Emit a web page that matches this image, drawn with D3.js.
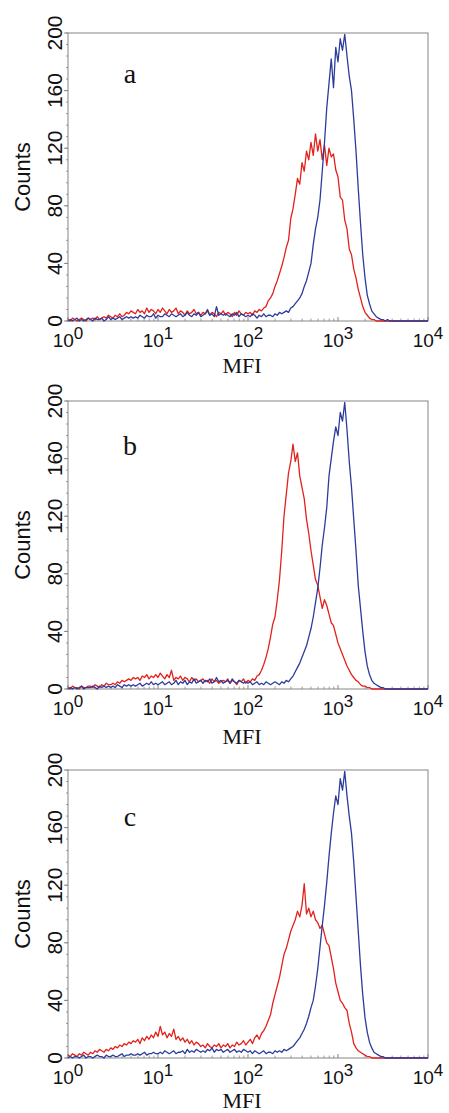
<!DOCTYPE html>
<html>
<head>
<meta charset="utf-8">
<script src="https://cdn.jsdelivr.net/npm/d3@7/dist/d3.min.js"></script>
<style>
  body { margin: 0; background: #fff; }
  svg { display: block; }
</style>
</head>
<body>
<script>
// histogram channels: one value per 0.025 decade, from 10^0 to 10^4
const channelStep = 0.025;
const yTicks = [0, 40, 80, 120, 160, 200];
const xDecades = [0, 1, 2, 3, 4];
const panelLetters = ["a", "b", "c"];

const redA = [
  1,0,2,1,0,1,2,1,0,2, 1,2,1,3,1,2,3,2,4,3, 2,4,3,5,3,4,6,5,7,6, 5,8,6,7,5,9,6,8,7,5,
  8,6,9,7,5,8,6,7,9,5, 7,6,4,7,5,6,8,5,6,4, 6,5,7,4,6,5,3,6,5,7, 4,6,5,3,6,4,7,5,4,6,
  5,6,4,7,6,8,7,9,10,14, 16,19,24,28,33,38,44,51,56,71, 78,88,99,95,110,104,118,112,124,115,
  130,118,126,112,122,108,120,114,116,105, 100,86,84,70,64,50,46,36,30,22, 16,10,6,4,2,1,1,0,0,0,
  0,0,0,0,0,0,0,0,0,0, 0,0,0,0,0,0,0,0,0,0, 0
];
const blueA = [
  0,1,0,1,2,0,1,0,1,2, 1,0,2,1,1,2,0,1,3,1, 2,1,2,3,1,2,3,2,3,2, 3,2,4,3,2,4,3,3,5,2,
  4,3,3,5,4,3,5,4,3,4, 5,3,4,6,4,3,5,4,6,3, 4,5,8,4,5,3,10,4,5,4, 5,4,3,5,4,6,3,5,4,3,
  4,3,5,4,2,4,3,5,3,4, 4,3,5,4,6,5,6,7,6,9, 10,12,14,16,19,24,28,34,40,53,
  64,72,84,104,124,148,165,182,162,190, 180,196,188,199,184,170,160,140,118,92, 68,46,30,18,12,7,5,3,2,1,
  1,0,1,0,0,0,0,0,0,0, 0,0,0,0,0,0,0,0,0,0, 0
];
const redB = [
  1,0,2,1,1,0,2,1,1,2, 2,1,3,2,1,3,2,4,3,3, 4,3,5,4,6,5,6,7,6,8, 7,8,6,9,8,10,7,9,8,10,
  8,11,9,7,10,8,13,6,8,7, 9,6,8,7,5,8,6,7,5,6, 7,5,6,4,7,5,6,4,5,6, 5,7,4,6,5,3,6,5,7,4,
  6,5,7,6,9,10,13,17,22,28, 36,45,50,62,76,96,120,135,150,158, 170,158,164,148,140,132,118,108,96,86,
  76,72,64,56,62,58,52,46,44,38, 32,28,24,20,16,13,10,8,6,5, 3,2,2,1,1,0,0,0,0,0,
  0,0,0,0,0,0,0,0,0,0, 0,0,0,0,0,0,0,0,0,0, 0
];
const blueB = [
  0,1,0,1,0,1,2,0,1,1, 1,2,1,0,2,1,2,1,2,1, 2,1,3,2,1,3,2,3,2,3, 2,3,4,2,3,4,3,5,3,4,
  3,4,5,3,4,5,3,4,6,3, 5,4,6,3,5,4,7,4,5,6, 4,6,5,7,4,5,8,5,6,4, 5,6,4,7,5,4,6,5,4,5,
  4,5,3,4,5,3,4,3,5,4, 3,4,5,4,3,5,4,6,5,7, 9,12,15,18,22,26,30,36,42,50,
  60,70,84,100,112,126,148,160,172,182, 176,192,186,199,180,158,140,118,96,72, 56,40,26,16,10,6,4,3,2,1,
  1,0,0,0,0,0,0,0,0,0, 0,0,0,0,0,0,0,0,0,0, 0
];
const redC = [
  2,1,3,2,1,3,2,4,3,2, 4,3,5,4,6,5,4,6,5,7, 6,8,7,9,8,10,9,11,10,12, 11,13,10,14,12,15,13,16,14,18,
  15,22,16,18,14,17,15,20,13,15, 12,14,11,13,10,12,9,11,10,8, 9,7,10,8,7,9,8,10,7,9, 8,10,7,9,8,11,9,10,12,9,
  11,13,10,14,16,13,17,19,22,26, 30,38,44,50,56,64,72,76,82,88, 92,96,102,98,106,121,100,104,98,102,
  96,94,90,92,86,80,78,70,62,52, 46,40,38,35,33,24,18,10,7,5, 4,3,2,1,1,0,0,0,0,0,
  0,0,0,0,0,0,0,0,0,0, 0,0,0,0,0,0,0,0,0,0, 0
];
const blueC = [
  0,1,0,1,1,0,1,2,0,1, 1,0,1,2,1,1,0,2,1,1, 2,1,1,2,3,1,2,2,3,2, 2,3,2,3,4,2,3,3,4,3,
  3,4,3,5,4,3,4,5,3,4, 4,5,3,6,4,5,4,6,5,4, 5,4,6,5,7,4,6,5,6,4, 5,6,4,5,6,4,5,4,6,5,
  4,5,3,5,4,3,4,5,3,4, 4,3,5,4,5,4,6,5,6,7, 8,10,12,14,17,20,24,29,35,40,
  50,62,77,92,106,122,140,156,170,182, 176,194,186,199,182,168,156,136,112,88, 64,44,28,18,11,7,4,3,2,1,
  1,0,0,0,0,0,0,0,0,0, 0,0,0,0,0,0,0,0,0,0, 0
];

const panels = [
  { letter: panelLetters[0], red: redA, blue: blueA, top: 33, letterDy: 50, mfiDy: 52 },
  { letter: panelLetters[1], red: redB, blue: blueB, top: 401, letterDy: 54, mfiDy: 55 },
  { letter: panelLetters[2], red: redC, blue: blueC, top: 770, letterDy: 56, mfiDy: 50 }
];

const width = 449, height = 1113;
const left = 68, right = 428, plotH = 288;
const sans = "'Liberation Sans', Arial, Helvetica, sans-serif";
const serif = "'Liberation Serif', 'Times New Roman', serif";
const frameColor = "#858585";

const svg = d3.select("body").append("svg")
  .attr("width", width)
  .attr("height", height);

const x = d3.scaleLog().domain([1, 1e4]).range([left, right]);

panels.forEach(function(p) {
  let bottom = p.top + plotH;
  let y = d3.scaleLinear().domain([0, 200]).range([bottom, p.top]);
  let g = svg.append("g");

  // frame
  g.append("rect")
    .attr("x", left).attr("y", p.top)
    .attr("width", right - left).attr("height", plotH)
    .attr("fill", "none")
    .attr("stroke", frameColor)
    .attr("stroke-width", 1);

  // y ticks, major every 40 and minor every 8
  g.selectAll(".yminor").data(d3.range(0, 201, 8)).enter().append("line")
    .attr("x1", left - 2).attr("x2", left)
    .attr("y1", d => y(d)).attr("y2", d => y(d))
    .attr("stroke", frameColor).attr("stroke-width", 0.8);
  g.selectAll(".ymajor").data(yTicks).enter().append("line")
    .attr("x1", left - 4).attr("x2", left)
    .attr("y1", d => y(d)).attr("y2", d => y(d))
    .attr("stroke", frameColor).attr("stroke-width", 1);
  g.selectAll(".ylab").data(yTicks).enter().append("text")
    .attr("transform", d => "translate(" + (left - 6) + "," + y(d) + ") rotate(-90)")
    .attr("text-anchor", "middle")
    .style("font-family", sans)
    .style("font-size", "21px")
    .attr("fill", "#111")
    .text(d => d);

  // x ticks on the log axis, pointing into the plot
  let minor = [];
  xDecades.slice(0, -1).forEach(function(e) {
    for (let k = 2; k < 10; k++) minor.push(k * Math.pow(10, e));
  });
  g.selectAll(".xminor").data(minor).enter().append("line")
    .attr("x1", d => x(d)).attr("x2", d => x(d))
    .attr("y1", bottom).attr("y2", bottom - 2.5)
    .attr("stroke", frameColor).attr("stroke-width", 0.8);
  g.selectAll(".xmajor").data(xDecades).enter().append("line")
    .attr("x1", d => x(Math.pow(10, d))).attr("x2", d => x(Math.pow(10, d)))
    .attr("y1", bottom).attr("y2", bottom - 4)
    .attr("stroke", frameColor).attr("stroke-width", 1);
  let xl = g.selectAll(".xlab").data(xDecades).enter().append("text")
    .attr("x", d => x(Math.pow(10, d)))
    .attr("y", bottom + 26)
    .attr("text-anchor", "middle")
    .style("font-family", sans)
    .style("font-size", "19px")
    .attr("fill", "#111");
  xl.append("tspan").text("10");
  xl.append("tspan")
    .attr("dy", -8)
    .style("font-size", "17px")
    .text(d => d);

  // histograms
  let line = d3.line()
    .x((d, i) => x(Math.pow(10, i * channelStep)))
    .y(d => y(d));
  g.append("path").datum(p.red)
    .attr("d", line)
    .attr("fill", "none")
    .attr("stroke", "#e3211c")
    .attr("stroke-width", 1.3)
    .attr("stroke-linejoin", "round");
  g.append("path").datum(p.blue)
    .attr("d", line)
    .attr("fill", "none")
    .attr("stroke", "#2c3c9c")
    .attr("stroke-width", 1.3)
    .attr("stroke-linejoin", "round");

  // labels
  g.append("text")
    .attr("x", 130).attr("y", p.top + p.letterDy)
    .attr("text-anchor", "middle")
    .style("font-family", serif)
    .style("font-size", "28px")
    .attr("fill", "#111")
    .text(p.letter);
  g.append("text")
    .attr("transform", "translate(30," + (p.top + plotH / 2) + ") rotate(-90)")
    .attr("text-anchor", "middle")
    .style("font-family", sans)
    .style("font-size", "22px")
    .attr("fill", "#111")
    .text("Counts");
  g.append("text")
    .attr("x", 242).attr("y", bottom + p.mfiDy)
    .attr("text-anchor", "middle")
    .style("font-family", serif)
    .style("font-size", "22px")
    .attr("fill", "#111")
    .text("MFI");
});
</script>
</body>
</html>
